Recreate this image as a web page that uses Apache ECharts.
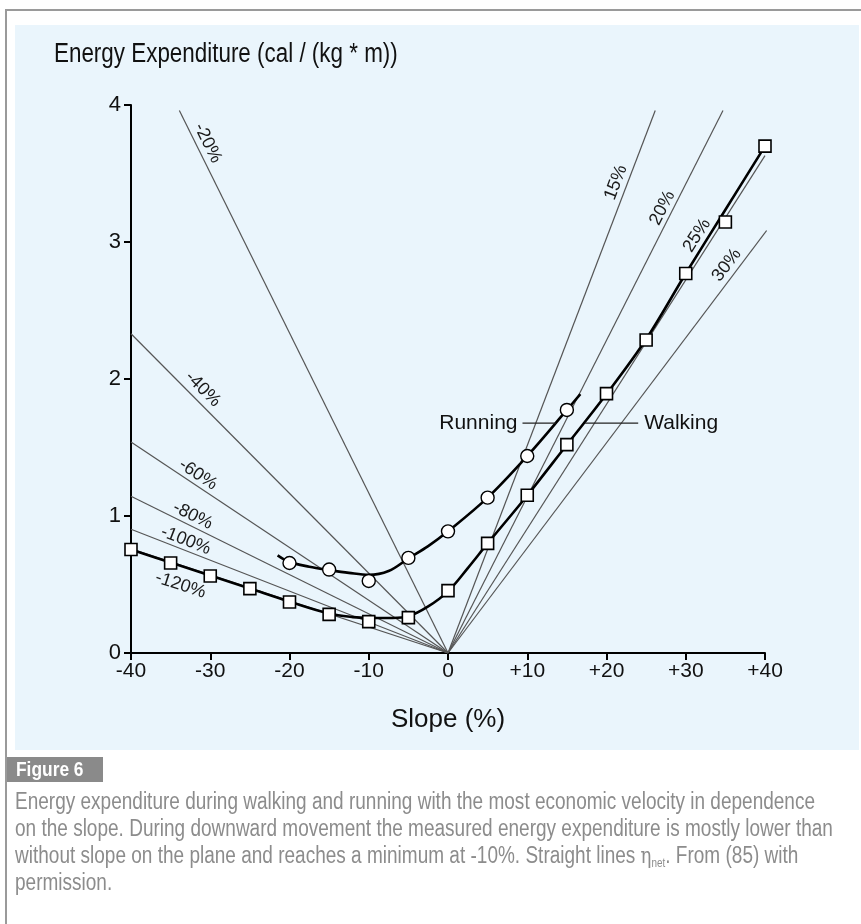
<!DOCTYPE html>
<html>
<head>
<meta charset="utf-8">
<script src="https://cdn.jsdelivr.net/npm/echarts@6/dist/echarts.min.js"></script>
<style>
  html, body { margin: 0; padding: 0; background: #ffffff; }
  #chart { width: 861px; height: 924px; }
</style>
</head>
<body>
<div id="chart"></div>
<script>
// Slope values (%) of the measured points
const walkSlopes = [-40, -35, -30, -25, -20, -15, -10, -5, 0, 5, 10, 15, 20, 25, 30, 35, 40];
const walkEnergy = [0.755, 0.657, 0.562, 0.47, 0.372, 0.282, 0.229, 0.258, 0.455, 0.80, 1.151, 1.521, 1.893, 2.285, 2.77, 3.146, 3.70];
const runSlopes = [-20, -15, -10, -5, 0, 5, 10, 15];
const runEnergy = [0.657, 0.609, 0.526, 0.694, 0.888, 1.134, 1.438, 1.774];

// Fitted curves drawn through the measurements
const walkCurveX = [-40, -35, -30, -25, -20, -15, -12, -10, -7, -5, -2.5, 0, 2.5, 5, 10, 15, 20, 25, 30, 35, 40];
const walkCurveY = [0.755, 0.66, 0.565, 0.47, 0.375, 0.288, 0.262, 0.256, 0.256, 0.268, 0.34, 0.45, 0.62, 0.80, 1.15, 1.52, 1.89, 2.29, 2.77, 3.235, 3.70];
const runCurveX = [-21.5, -20, -17.5, -15, -12.5, -10, -7.5, -5, -2.5, 0, 5, 10, 15, 16.7];
const runCurveY = [0.713, 0.664, 0.63, 0.606, 0.585, 0.57, 0.598, 0.69, 0.78, 0.888, 1.134, 1.438, 1.774, 1.89];

// Straight lines of constant net efficiency through the origin: far end of each line
const rayNames = ['-20%', '-40%', '-60%', '-80%', '-100%', '-120%', '15%', '20%', '25%', '30%'];
const rayEndX = [-33.9, -40, -40, -40, -40, -40, 26.15, 34.7, 40, 40.2];
const rayEndY = [3.96, 2.33, 1.54, 1.144, 0.903, 0.76, 3.96, 3.96, 3.63, 3.084];
// label placement: fraction along the line and sideways offset (px)
const rayLabelT = [0.931, 0.80, 0.806, 0.819, 0.838, 0.825, 0.86, 0.812, 0.824, 0.9025];
const rayLabelD = [-11, -12, -10, -10, -9.5, 19, 11, 10, 14.5, 11];

const figureTag = 'Figure 6';
const captionLines = [
  'Energy expenditure during walking and running with the most economic velocity in dependence',
  'on the slope. During downward movement the measured energy expenditure is mostly lower than',
  'without slope on the plane and reaches a minimum at -10%. Straight lines {eta|η}{sub|net}. From (85) with',
  'permission.'
];

const FONT = "'Liberation Sans', Arial, Helvetica, sans-serif";

const chart = echarts.init(document.getElementById('chart'), null, { renderer: 'canvas' });

const pairs = (xs, ys) => xs.map((x, i) => [x, ys[i]]);

// width of a string in a given font, used to condense the caption to its column
const measureCtx = document.createElement('canvas').getContext('2d');
function textWidth(str, font) {
  measureCtx.font = font;
  return measureCtx.measureText(str).width;
}

const raySeries = rayNames.map((name, i) => ({
  type: 'line',
  name: 'ray ' + name,
  data: [[0, 0], [rayEndX[i], rayEndY[i]]],
  symbol: 'none',
  silent: true,
  z: 1,
  lineStyle: { color: '#555555', width: 1.2 }
}));

const option = {
  animation: false,
  backgroundColor: '#ffffff',
  grid: { left: 131, right: 96, top: 105, bottom: 271, containLabel: false },
  xAxis: {
    type: 'value',
    min: -40, max: 40, interval: 10,
    name: 'Slope (%)',
    nameLocation: 'middle',
    nameGap: 54,
    nameTextStyle: { fontFamily: FONT, fontSize: 26, color: '#111111' },
    axisLine: { onZero: false, lineStyle: { color: '#000000', width: 2 } },
    axisTick: { show: true, inside: false, length: 7, lineStyle: { color: '#000000', width: 2 } },
    axisLabel: {
      fontFamily: FONT, fontSize: 21, color: '#111111', margin: 8,
      formatter: v => (v > 0 ? '+' + v : String(v))
    },
    splitLine: { show: false }
  },
  yAxis: {
    type: 'value',
    min: 0, max: 4, interval: 1,
    axisLine: { show: true, onZero: false, lineStyle: { color: '#000000', width: 2 } },
    axisTick: { show: true, inside: false, length: 7, lineStyle: { color: '#000000', width: 2 } },
    axisLabel: { fontFamily: FONT, fontSize: 22, color: '#111111', margin: 10 },
    splitLine: { show: false }
  },
  series: [
    ...raySeries,
    {
      type: 'line', name: 'Walking curve',
      data: pairs(walkCurveX, walkCurveY),
      smooth: 0.35, symbol: 'none', z: 3,
      lineStyle: { color: '#000000', width: 2.6 }
    },
    {
      type: 'line', name: 'Running curve',
      data: pairs(runCurveX, runCurveY),
      smooth: 0.35, symbol: 'none', z: 3,
      lineStyle: { color: '#000000', width: 2.6 }
    },
    {
      type: 'scatter', name: 'Walking',
      data: pairs(walkSlopes, walkEnergy),
      symbol: 'rect', symbolSize: 12, z: 5,
      itemStyle: { color: '#ffffff', borderColor: '#000000', borderWidth: 1.6, opacity: 1 }
    },
    {
      type: 'scatter', name: 'Running',
      data: pairs(runSlopes, runEnergy),
      symbol: 'circle', symbolSize: 13, z: 5,
      itemStyle: { color: '#ffffff', borderColor: '#000000', borderWidth: 1.4, opacity: 1 }
    }
  ]
};

chart.setOption(option);

// Decorations positioned from the axes' own scales
function buildGraphics() {
  const px = p => chart.convertToPixel({ gridIndex: 0 }, p);
  const els = [];

  // page frame and light-blue panel
  els.push({ type: 'rect', z: -10, silent: true, shape: { x: 15, y: 25, width: 844, height: 725 }, style: { fill: '#eaf5fc' } });
  els.push({ type: 'rect', z: -9, silent: true, shape: { x: 5, y: 9, width: 856, height: 2 }, style: { fill: '#9a9a9a' } });
  els.push({ type: 'rect', z: -9, silent: true, shape: { x: 5, y: 9, width: 2, height: 915 }, style: { fill: '#9a9a9a' } });

  // chart heading (condensed face)
  els.push({
    type: 'text', x: 54, y: 55, scaleX: 0.83, z: 4, silent: true,
    style: { text: 'Energy Expenditure (cal / (kg * m))', font: '27px ' + FONT, fill: '#111111', align: 'left', verticalAlign: 'middle', textAlign: 'left', textVerticalAlign: 'middle' }
  });

  // line labels
  rayNames.forEach((name, i) => {
    const o = px([0, 0]);
    const e = px([rayEndX[i], rayEndY[i]]);
    const dx = e[0] - o[0], dy = e[1] - o[1];
    const len = Math.hypot(dx, dy);
    const ux = dx / len, uy = dy / len;
    const nx = uy, ny = -ux;
    const t = rayLabelT[i] * len, d = rayLabelD[i];
    const cx = o[0] + t * ux + d * nx;
    const cy = o[1] + t * uy + d * ny;
    const vx = ux > 0 ? ux : -ux, vy = ux > 0 ? uy : -uy;
    const rot = Math.atan2(-vy, vx);
    els.push({
      type: 'text', x: cx, y: cy, rotation: rot, z: 4, silent: true,
      style: { text: name, font: '18px ' + FONT, fill: '#1a1a1a', align: 'center', verticalAlign: 'middle', textAlign: 'center', textVerticalAlign: 'middle' }
    });
  });

  // Running / Walking callouts
  const callY = 1.678;
  const rA = px([9.4, callY]), rB = px([13.6, callY]);
  els.push({ type: 'line', z: 4, silent: true, shape: { x1: rA[0], y1: rA[1], x2: rB[0], y2: rB[1] }, style: { stroke: '#222222', lineWidth: 1.2 } });
  els.push({ type: 'text', x: rA[0] - 5, y: rA[1], z: 4, silent: true,
    style: { text: 'Running', font: '21px ' + FONT, fill: '#111111', align: 'right', verticalAlign: 'middle', textAlign: 'right', textVerticalAlign: 'middle' } });
  const wA = px([17.3, callY]), wB = px([24.0, callY]);
  els.push({ type: 'line', z: 4, silent: true, shape: { x1: wA[0], y1: wA[1], x2: wB[0], y2: wB[1] }, style: { stroke: '#222222', lineWidth: 1.2 } });
  els.push({ type: 'text', x: wB[0] + 6, y: wB[1], z: 4, silent: true,
    style: { text: 'Walking', font: '21px ' + FONT, fill: '#111111', align: 'left', verticalAlign: 'middle', textAlign: 'left', textVerticalAlign: 'middle' } });

  // Figure tag and caption, condensed to the caption column
  const capFont = '23px ' + FONT;
  const capScale = 800 / textWidth(captionLines[0], capFont);
  els.push({ type: 'rect', z: 2, silent: true, shape: { x: 7, y: 757, width: 96, height: 25 }, style: { fill: '#8a8a8a' } });
  els.push({ type: 'text', x: 16, y: 770, scaleX: capScale, z: 3, silent: true,
    style: { text: figureTag, font: 'bold 21px ' + FONT, fill: '#ffffff', align: 'left', verticalAlign: 'middle', textAlign: 'left', textVerticalAlign: 'middle' } });
  const capY = [803, 830, 857, 884];
  captionLines.forEach((line, i) => {
    els.push({ type: 'text', x: 15, y: capY[i], scaleX: capScale, z: 3, silent: true,
      style: {
        text: line, font: capFont, fill: '#8c8c8c', align: 'left', verticalAlign: 'middle', textAlign: 'left', textVerticalAlign: 'middle',
        rich: {
          eta: { fontFamily: 'DejaVu Serif', fontSize: 22, fill: '#8c8c8c', color: '#8c8c8c' },
          sub: { fontFamily: FONT, fontSize: 12, fill: '#8c8c8c', color: '#8c8c8c', padding: [13, 0, 0, 0] }
        }
      } });
  });

  chart.setOption({ graphic: { elements: els } });
}
buildGraphics();
</script>
</body>
</html>
